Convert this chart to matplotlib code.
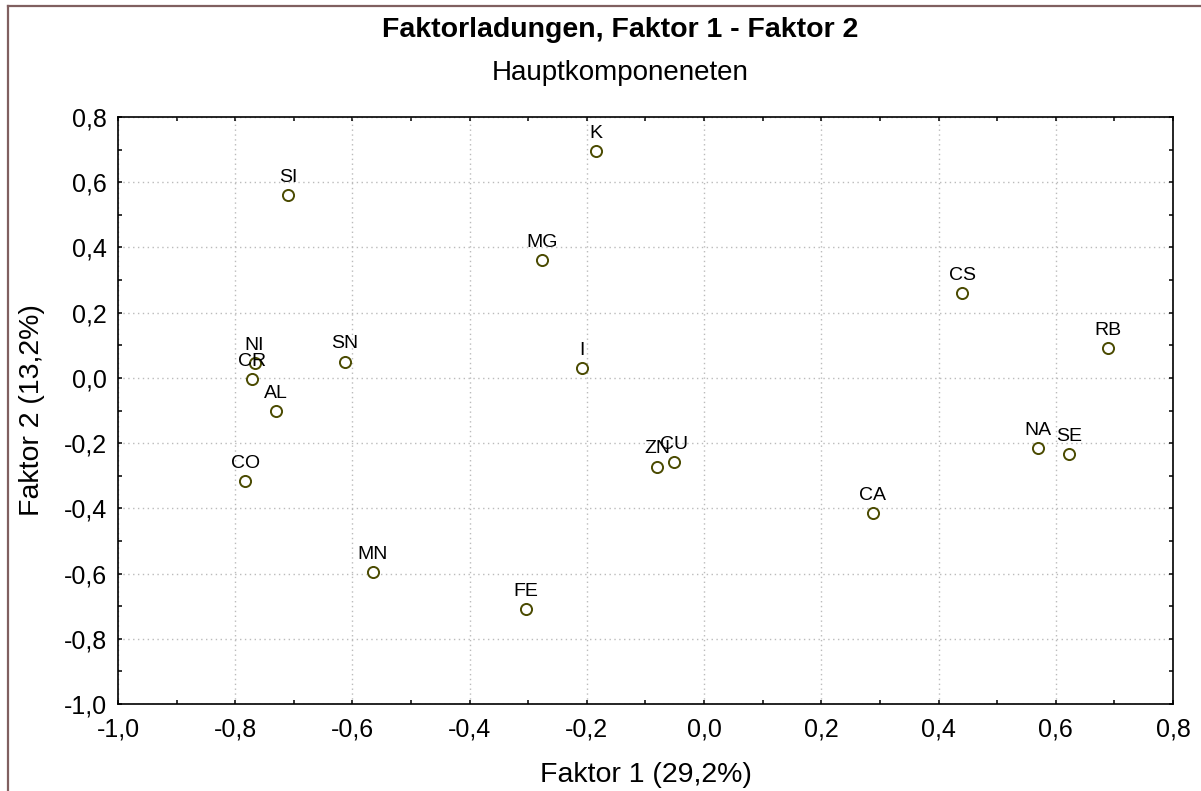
import matplotlib
matplotlib.use('Agg')
import matplotlib.pyplot as plt
from matplotlib.ticker import MultipleLocator, FuncFormatter
from matplotlib.lines import Line2D

plt.rcParams['font.family'] = ['Liberation Sans', 'DejaVu Sans']

# loadings
elements = ['SI', 'K', 'MG', 'CS', 'RB', 'NI', 'CR', 'SN', 'I', 'AL',
            'ZN', 'CU', 'NA', 'SE', 'CO', 'CA', 'MN', 'FE']
factor1 = [-0.710, -0.185, -0.276, 0.440, 0.689, -0.767, -0.771, -0.613, -0.209, -0.731,
           -0.080, -0.052, 0.569, 0.623, -0.783, 0.288, -0.565, -0.304]
factor2 = [0.561, 0.696, 0.361, 0.259, 0.092, 0.046, -0.004, 0.050, 0.031, -0.102,
           -0.272, -0.257, -0.216, -0.234, -0.317, -0.414, -0.595, -0.708]

fig = plt.figure(figsize=(12.01, 7.91), dpi=100)
ax = fig.add_axes([118/1201, 1 - 704/791, (1173 - 118)/1201, (704 - 117)/791])

ax.plot(factor1, factor2, 'o', markersize=8, markerfacecolor='white',
        markeredgecolor='#4a4a00', markeredgewidth=1.4, linestyle='none', zorder=3)
for name, x, y in zip(elements, factor1, factor2):
    ax.annotate(name, (x, y), xytext=(0, 9.5), textcoords='offset points',
                ha='center', va='baseline', fontsize=14, zorder=4)

ax.set_xlim(-1.0, 0.8)
ax.set_ylim(-1.0, 0.8)
ax.xaxis.set_major_locator(MultipleLocator(0.2))
ax.yaxis.set_major_locator(MultipleLocator(0.2))
ax.xaxis.set_minor_locator(MultipleLocator(0.1))
ax.yaxis.set_minor_locator(MultipleLocator(0.1))
comma = FuncFormatter(lambda v, p: f'{v:.1f}'.replace('.', ',').replace('-0,0', '0,0'))
ax.xaxis.set_major_formatter(comma)
ax.yaxis.set_major_formatter(comma)
ax.tick_params(which='both', direction='in', top=True, right=True, length=3,
               width=1.1, labelsize=18)
ax.tick_params(axis='x', which='major', pad=10)
ax.tick_params(axis='y', which='major', pad=8)
ax.grid(True, which='major', color='#bbbbbb', linestyle=(0, (1, 2.5)), linewidth=1)
for s in ax.spines.values():
    s.set_linewidth(1.2)

ax.set_xlabel('Faktor 1 (29,2%)', fontsize=20.5)
ax.set_ylabel('Faktor 2 (13,2%)', fontsize=20.5)
ax.xaxis.label.set_va('center')
ax.yaxis.label.set_va('center')
ax.xaxis.set_label_coords(0.5, (704 - 775) / 587)
ax.yaxis.set_label_coords((32 - 118) / 1055, 0.5)

fig.text(620/1201, 1 - 30/791, 'Faktorladungen, Faktor 1 - Faktor 2',
         ha='center', va='center', fontsize=20.5, fontweight='bold')
fig.text(620/1201, 1 - 73/791, 'Hauptkomponeneten', ha='center', va='center', fontsize=20)

# frame lines at the left and top edge of the figure
fig.add_artist(Line2D([8/1201, 8/1201], [0, 1 - 6/791], color='#806060', linewidth=1.6))
fig.add_artist(Line2D([8/1201, 1], [1 - 6/791, 1 - 6/791], color='#806060', linewidth=1.6))

plt.savefig('out.png', dpi=100)
